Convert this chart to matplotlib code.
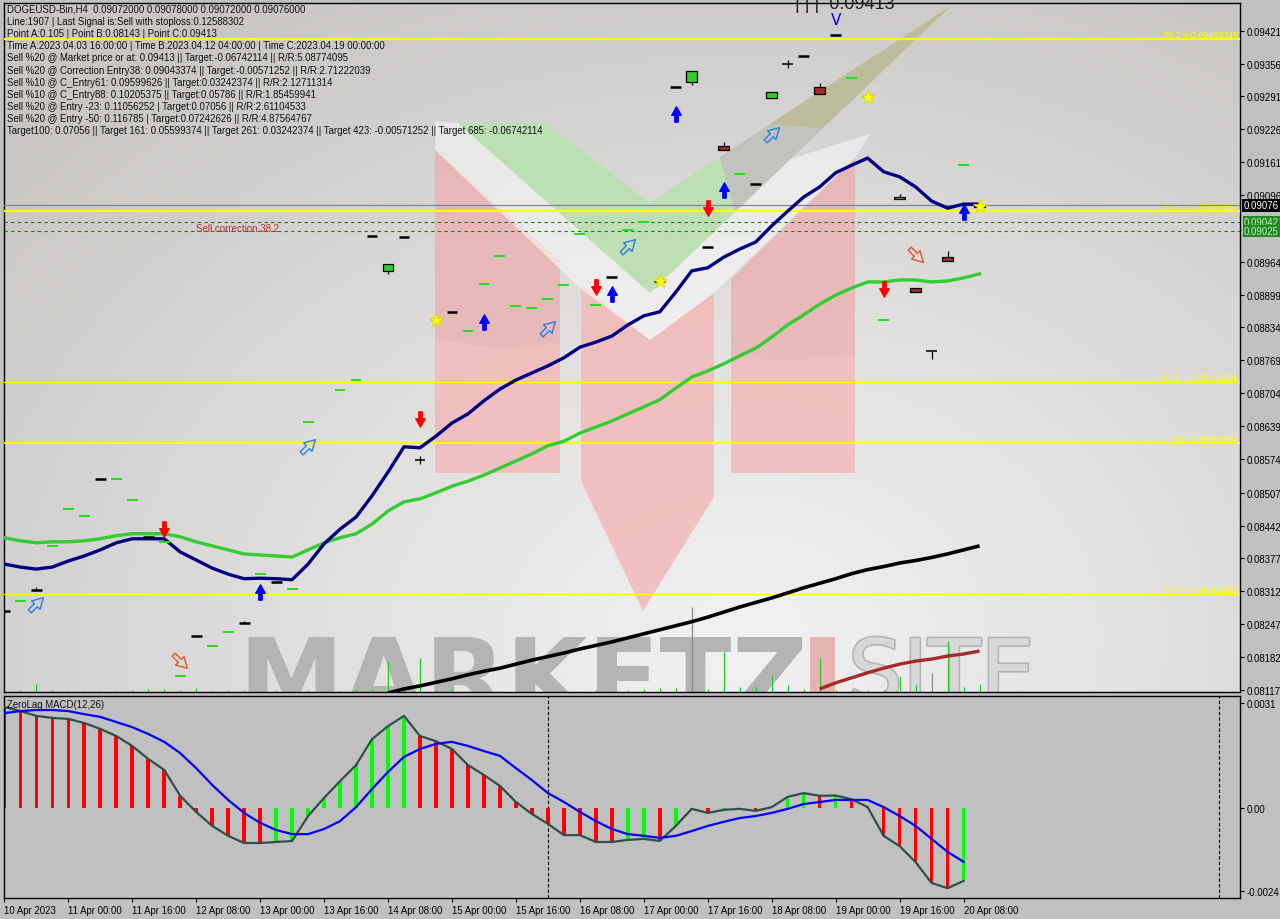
import numpy as np
import matplotlib
matplotlib.use("Agg")
import matplotlib.pyplot as plt
import matplotlib.transforms as mtransforms
import matplotlib.patheffects as pe
from matplotlib.patches import Polygon, Rectangle
from matplotlib.path import Path

plt.rcParams['font.family'] = ['Liberation Sans', 'DejaVu Sans']

# ---------------------------------------------------------------- data
time_labels = ["10 Apr 2023", "11 Apr 00:00", "11 Apr 16:00", "12 Apr 08:00",
               "13 Apr 00:00", "13 Apr 16:00", "14 Apr 08:00", "15 Apr 00:00",
               "15 Apr 16:00", "16 Apr 08:00", "17 Apr 00:00", "17 Apr 16:00",
               "18 Apr 08:00", "19 Apr 00:00", "19 Apr 16:00", "20 Apr 08:00"]
time_label_bars = list(range(0, 61, 4))

info_lines = [
    "DOGEUSD-Bin,H4  0.09072000 0.09078000 0.09072000 0.09076000",
    "Line:1907 | Last Signal is:Sell with stoploss:0.12588302",
    "Point A:0.105 | Point B:0.08143 | Point C:0.09413",
    "Time A:2023.04.03 16:00:00 | Time B:2023.04.12 04:00:00 | Time C:2023.04.19 00:00:00",
    "Sell %20 @ Market price or at: 0.09413 || Target:-0.06742114 || R/R:5.08774095",
    "Sell %20 @ Correction Entry38: 0.09043374 || Target:-0.00571252 || R/R:2.71222039",
    "Sell %10 @ C_Entry61: 0.09599626 || Target:0.03242374 || R/R:2.12711314",
    "Sell %10 @ C_Entry88: 0.10205375 || Target:0.05786 || R/R:1.85459941",
    "Sell %20 @ Entry -23: 0.11056252 | Target:0.07056 || R/R:2.61104533",
    "Sell %20 @ Entry -50: 0.116785 | Target:0.07242626 || R/R:4.87564767",
    "Target100: 0.07056 || Target 161: 0.05599374 || Target 261: 0.03242374 || Target 423: -0.00571252 || Target 685: -0.06742114",
]

price_ticks = [0.09421, 0.09356, 0.09291, 0.09226, 0.09161, 0.09096, 0.08964, 0.08899,
               0.08834, 0.08769, 0.08704, 0.08639, 0.08574, 0.08507, 0.08442, 0.08377,
               0.08312, 0.08247, 0.08182, 0.08117]

fib_levels = [0.09403745, 0.09064687, 0.08725629, 0.08604947, 0.08306116]
fib_labels = ["38.2 = 0.09403745", "50.0 = 0.09064687", "61.8 = 0.08725629",
              "66= 0.08604947", "76.4 = 0.08306116"]

current_price = 0.09076
entry_levels = [0.09042, 0.09025]

ma_navy = [0.08366, 0.08360, 0.08356, 0.08360, 0.08372, 0.08382, 0.08394, 0.08408, 0.08416, 0.08416,
           0.08416, 0.08390, 0.08374, 0.08358, 0.08346, 0.08337, 0.08338, 0.08337, 0.08335, 0.08366,
           0.08406, 0.08435, 0.08459, 0.08501, 0.08548, 0.08598, 0.08596, 0.08619, 0.08645, 0.08663,
           0.08689, 0.08712, 0.08730, 0.08744, 0.08758, 0.08774, 0.08795, 0.08805, 0.08817, 0.08839,
           0.08857, 0.08865, 0.08904, 0.08946, 0.08952, 0.08973, 0.08989, 0.09003, 0.09035, 0.09064,
           0.09092, 0.09112, 0.09140, 0.09155, 0.09169, 0.09142, 0.09132, 0.09112, 0.09084, 0.09070,
           0.09078, 0.09078]

ma_lime = [0.08418, 0.08412, 0.08408, 0.08410, 0.08410, 0.08412, 0.08416, 0.08422, 0.08426, 0.08426,
           0.08426, 0.08420, 0.08410, 0.08402, 0.08394, 0.08386, 0.08384, 0.08382, 0.08380, 0.08394,
           0.08408, 0.08418, 0.08426, 0.08445, 0.08471, 0.08489, 0.08495, 0.08507, 0.08520, 0.08530,
           0.08542, 0.08556, 0.08570, 0.08584, 0.08600, 0.08609, 0.08625, 0.08637, 0.08649, 0.08663,
           0.08677, 0.08691, 0.08714, 0.08736, 0.08748, 0.08762, 0.08778, 0.08793, 0.08815, 0.08839,
           0.08859, 0.08880, 0.08898, 0.08912, 0.08924, 0.08924, 0.08928, 0.08928, 0.08924, 0.08926,
           0.08932, 0.08940]

ma_black_start = 24
ma_black = [0.08111, 0.08119, 0.08125, 0.08132, 0.08139, 0.08147, 0.08154, 0.08160, 0.08168, 0.08176,
            0.08183, 0.08190, 0.08198, 0.08205, 0.08212, 0.08220, 0.08228, 0.08236, 0.08244, 0.08252,
            0.08261, 0.08271, 0.08281, 0.08290, 0.08299, 0.08309, 0.08319, 0.08328, 0.08337, 0.08347,
            0.08355, 0.08361, 0.08368, 0.08373, 0.08379, 0.08386, 0.08394, 0.08402]

ma_brown_start = 51
ma_brown = [0.08119, 0.08131, 0.08141, 0.08151, 0.08160, 0.08168, 0.08174, 0.08178, 0.08184,
            0.08188, 0.08194]

# candles: k = black doji, g = green doji, x = black doji with wick, G = bull body, B = bear body
cndl_bar = [0, 1, 2, 3, 4, 5, 6, 7, 8, 9, 10, 11, 12, 13, 14, 15, 16, 17, 18, 19,
            21, 22, 23, 24, 25, 26, 27, 28, 29, 30, 31, 32, 33, 34, 35, 36, 37, 38, 39, 40,
            41, 42, 43, 44, 45, 46, 47, 48, 49, 50, 51, 52, 53, 54, 55, 56, 57, 58, 59, 60, 61]
cndl_kind = ["k", "g", "k", "g", "g", "g", "k", "g", "g", "k", "g", "g", "k", "g", "g", "k", "g", "k", "g", "g",
             "g", "g", "k", "G", "k", "x", "g", "k", "g", "g", "g", "g", "g", "g", "g", "g", "g", "k", "g", "g",
             "k", "k", "G", "k", "B", "g", "k", "G", "x", "k", "B", "k", "g", "g", "g", "G", "B", "x", "B", "g", "G"]
cndl_open = [0.08273, 0.08293, 0.08315, 0.08402, 0.08475, 0.08461, 0.08534, 0.08534, 0.08493, 0.08420,
             0.08410, 0.08145, 0.08224, 0.08204, 0.08232, 0.08249, 0.08346, 0.08331, 0.08317, 0.08647,
             0.08710, 0.08730, 0.09015, 0.08946, 0.09013, 0.08572, 0.08849, 0.08865, 0.08827, 0.08920,
             0.08975, 0.08877, 0.08873, 0.08890, 0.08918, 0.09019, 0.08878, 0.08934, 0.09027, 0.09043,
             0.08926, 0.09310, 0.09320, 0.08993, 0.09193, 0.09138, 0.09118, 0.09288, 0.09355, 0.09371,
             0.09310, 0.09413, 0.09327, 0.09290, 0.08849, 0.09088, 0.08912, 0.08787, 0.08973, 0.09155,
             0.09072]
cndl_close = [0.08273, 0.08293, 0.08315, 0.08402, 0.08475, 0.08461, 0.08534, 0.08534, 0.08493, 0.08420,
              0.08410, 0.08145, 0.08224, 0.08204, 0.08232, 0.08249, 0.08346, 0.08331, 0.08317, 0.08647,
              0.08710, 0.08730, 0.09015, 0.08960, 0.09013, 0.08572, 0.08849, 0.08865, 0.08827, 0.08920,
              0.08975, 0.08877, 0.08873, 0.08890, 0.08918, 0.09019, 0.08878, 0.08934, 0.09027, 0.09043,
              0.08926, 0.09310, 0.09341, 0.08993, 0.09185, 0.09138, 0.09118, 0.09300, 0.09355, 0.09371,
              0.09296, 0.09413, 0.09327, 0.09290, 0.08849, 0.09092, 0.08904, 0.08787, 0.08966, 0.09155,
              0.09076]
cndl_high = [0.08273, 0.08293, 0.08320, 0.08402, 0.08475, 0.08461, 0.08534, 0.08534, 0.08493, 0.08420,
             0.08410, 0.08145, 0.08224, 0.08204, 0.08232, 0.08253, 0.08346, 0.08331, 0.08317, 0.08647,
             0.08710, 0.08730, 0.09015, 0.08960, 0.09013, 0.08580, 0.08849, 0.08865, 0.08827, 0.08920,
             0.08975, 0.08877, 0.08873, 0.08890, 0.08918, 0.09019, 0.08878, 0.08934, 0.09027, 0.09043,
             0.08926, 0.09310, 0.09341, 0.08993, 0.09200, 0.09138, 0.09118, 0.09300, 0.09363, 0.09371,
             0.09318, 0.09413, 0.09327, 0.09290, 0.08849, 0.09098, 0.08912, 0.08787, 0.08985, 0.09155,
             0.09078]
cndl_low = [0.08273, 0.08293, 0.08315, 0.08402, 0.08475, 0.08461, 0.08534, 0.08534, 0.08493, 0.08420,
            0.08410, 0.08145, 0.08224, 0.08204, 0.08232, 0.08249, 0.08346, 0.08331, 0.08317, 0.08647,
            0.08710, 0.08730, 0.09015, 0.08940, 0.09013, 0.08564, 0.08849, 0.08865, 0.08827, 0.08920,
            0.08975, 0.08877, 0.08873, 0.08890, 0.08918, 0.09019, 0.08878, 0.08934, 0.09027, 0.09043,
            0.08926, 0.09310, 0.09313, 0.08993, 0.09185, 0.09138, 0.09118, 0.09288, 0.09347, 0.09371,
            0.09296, 0.09413, 0.09327, 0.09290, 0.08849, 0.09088, 0.08904, 0.08771, 0.08966, 0.09155,
            0.09072]

volume = [2, 2, 8, 2, 1, 1, 1, 1, 2, 3, 3, 2, 4, 1, 2, 2, 1, 2, 1, 2,
          1, 1, 3, 3, 31, 4, 34, 2, 3, 1, 1, 1, 1, 1, 1, 1, 1, 2, 1, 2,
          3, 4, 4, 85, 3, 40, 5, 5, 17, 7, 3, 34, 2, 2, 2, 2, 16, 7, 19, 51,
          5, 8]
volume_gray_bars = [43, 58]

sell_arrow_bar = [10, 26, 37, 44, 55]
sell_arrow_price = [0.08435, 0.08653, 0.08914, 0.09070, 0.08910]
buy_arrow_bar = [16, 30, 38, 42, 45, 60]
buy_arrow_price = [0.08311, 0.08845, 0.08900, 0.09256, 0.09106, 0.09062]
hollow_up_bar = [2, 19, 34, 39, 48]
hollow_up_price = [0.08287, 0.08600, 0.08833, 0.08995, 0.09217]
hollow_dn_bar = [11, 57]
hollow_dn_price = [0.08174, 0.08977]
star_bar = [27, 41, 54, 61]
star_price = [0.08849, 0.08926, 0.09290, 0.09074]
peak_bar, peak_price, peak_text = 52, 0.09444, "0.09413"

macd = [0.00297, 0.00285, 0.00271, 0.00265, 0.00262, 0.00250, 0.00233, 0.00212, 0.00183, 0.00145,
        0.00113, 0.00037, -0.00010, -0.00051, -0.00080, -0.00101, -0.00101, -0.00098, -0.00095, -0.00022,
        0.00031, 0.00080, 0.00127, 0.00203, 0.00241, 0.00271, 0.00212, 0.00197, 0.00174, 0.00127,
        0.00098, 0.00066, 0.00019, -0.00016, -0.00045, -0.00078, -0.00078, -0.00098, -0.00098, -0.00092,
        -0.00089, -0.00095, -0.00051, -0.00001, -0.00013, -0.00004, -0.00001, -0.00007, 0.00004, 0.00034,
        0.00045, 0.00037, 0.00038, 0.00027, 0.00004, -0.00080, -0.00110, -0.00157, -0.00218, -0.00233,
        -0.00212]
macd_signal = [0.00279, 0.00285, 0.00288, 0.00288, 0.00285, 0.00276, 0.00268, 0.00253, 0.00238, 0.00218,
               0.00195, 0.00162, 0.00118, 0.00069, 0.00025, -0.00013, -0.00042, -0.00063, -0.00075, -0.00075,
               -0.00060, -0.00037, 0.00004, 0.00057, 0.00107, 0.00151, 0.00174, 0.00189, 0.00195, 0.00183,
               0.00168, 0.00154, 0.00118, 0.00083, 0.00045, 0.00019, -0.00010, -0.00037, -0.00060, -0.00075,
               -0.00080, -0.00086, -0.00080, -0.00066, -0.00051, -0.00039, -0.00028, -0.00022, -0.00013, -0.00001,
               0.00013, 0.00019, 0.00025, 0.00025, 0.00025, 0.00004, -0.00022, -0.00051, -0.00089, -0.00127,
               -0.00156]
macd_ticks = [0.0031, 0.0, -0.0024]
macd_tick_labels = ["0.0031", "0.00", "-0.0024"]
separator_bars = [34, 76]

# ---------------------------------------------------------------- layout
W, H = 1280, 920
fig = plt.figure(figsize=(W / 100, H / 100), dpi=100, facecolor='#c0c0c0')
px = mtransforms.Affine2D().scale(1 / W, -1 / H).translate(0, 1) + fig.transFigure


def fbox(x0, y0, x1, y1):
    return [x0 / W, 1 - y1 / H, (x1 - x0) / W, (y1 - y0) / H]


ax = fig.add_axes(fbox(4, 4, 1240, 693))
ax2 = fig.add_axes(fbox(4, 697, 1240, 899))
XMIN, XMAX = -0.02, 77.29
YMIN, YMAX = 0.081129, 0.094758
ax2.set_facecolor('#c0c0c0')
for a in (ax, ax2):
    for s in a.spines.values():
        s.set_color('black')
        s.set_linewidth(1.0)

# background gradient of the price pane
ny, nx = 220, 320
yy, xx = np.mgrid[0:1:ny * 1j, 0:1:nx * 1j]
d = np.sqrt(((xx - 0.6) / 0.78) ** 2 + ((yy - 0.92) / 1.05) ** 2)
t = np.clip(d, 0, 1) ** 1.1
light = np.array([0.945, 0.945, 0.945])
dark = np.array([0.79, 0.78, 0.77])
img = light[None, None, :] + (dark - light)[None, None, :] * t[..., None]
ax.imshow(img, extent=[0, 1, 0, 1], transform=ax.transAxes, aspect='auto',
          origin='upper', zorder=0, interpolation='bilinear')
ax.set_xlim(XMIN, XMAX)
ax.set_ylim(YMIN, YMAX)
ax2.set_xlim(XMIN, XMAX)
ax2.set_ylim(-0.002619, 0.003291)

# watermark logo (decoration, pixel space)
pink = '#f3b8b8'
for poly in ([(435, 151), (560, 262), (560, 474), (435, 474)],
             [(581, 285), (650, 341), (714, 294), (714, 498), (643, 612), (581, 482)],
             [(731, 280), (855, 159), (855, 474), (731, 474)]):
    ax.add_patch(Polygon(poly, closed=True, transform=px, fc=pink, ec='none', alpha=0.82, zorder=1))
# upper part of the pink bars slightly greyer
for poly in ([(435, 151), (560, 262), (560, 345), (500, 350), (435, 340)],
             [(731, 280), (855, 159), (855, 355), (790, 362), (731, 358)]):
    ax.add_patch(Polygon(poly, closed=True, transform=px, fc='#c09a9a', ec='none', alpha=0.12, zorder=1.05))
# white chevron band
ax.add_patch(Polygon([(435, 122), (458, 124), (650, 294), (790, 160), (870, 135), (855, 159),
                      (714, 294), (650, 341), (581, 290), (435, 151)], closed=True, transform=px,
                     fc='#f8f8f8', ec='none', alpha=0.6, zorder=1.1))
# green check
ax.add_patch(Polygon([(458, 124), (546, 124), (650, 204), (952, 6), (650, 294)], closed=True,
                     transform=px, fc='#bde0b3', ec='none', alpha=0.97, zorder=1.2))
ax.add_patch(Polygon([(720, 158), (770, 125), (822, 130), (735, 213)], closed=True,
                     transform=px, fc='#c2c2c0', ec='none', alpha=0.95, zorder=1.3))
ax.add_patch(Polygon([(770, 125), (952, 6), (822, 130)], closed=True,
                     transform=px, fc='#bcbb9c', ec='none', alpha=0.97, zorder=1.3))
ax.text(238, 714, "MARKETZ", transform=px, fontsize=76, fontweight='bold',
        family='DejaVu Sans', color='#b4b4b4', va='baseline', ha='left', zorder=1.4, clip_on=True)
ax.add_patch(Rectangle((810, 638), 25, 60, transform=px, fc='#e7b2b2', ec='none', zorder=1.4))
ax.text(848, 702, "SITE", transform=px, fontsize=62, family='DejaVu Sans', color='#d8d8d8',
        va='baseline', ha='left', zorder=1.4, clip_on=True,
        path_effects=[pe.withStroke(linewidth=2.2, foreground='#b2b2b2')])

# volume
vol_colors = ['#8a8a8a' if i in volume_gray_bars else '#22cc22' for i in range(len(volume))]
ax.vlines(np.arange(len(volume)), 0, np.array(volume) / 688.0,
          transform=ax.get_xaxis_transform(), colors=vol_colors, lw=0.9, zorder=2)

# horizontal levels
fib_lw = [1.6, 1.6, 0.8, 1.3, 0.8]
for lvl, lab, lw in zip(fib_levels, fib_labels, fib_lw):
    ax.axhline(lvl, color='#ffff00', lw=lw, zorder=3)
    ax.text(0.9985, lvl, lab, transform=ax.get_yaxis_transform(), ha='right', va='bottom',
            color='#ffff00', fontsize=6.5, zorder=3)
ax.axhline(current_price, color='#778899', lw=0.9, zorder=3)
for lvl in entry_levels:
    ax.axhline(lvl, color='#2a6e2a', lw=0.8, ls=(0, (3, 3)), zorder=3)
ax.text(12, 0.09031, "Sell correction 38.2", color='#b83030', fontsize=7, va='center',
        ha='left', zorder=3)

# moving averages
bars = np.arange(len(ma_navy))
ax.plot(np.arange(ma_black_start, ma_black_start + len(ma_black)), ma_black,
        color='black', lw=2.6, zorder=4, solid_capstyle='butt')
ax.plot(np.arange(ma_brown_start, ma_brown_start + len(ma_brown)), ma_brown,
        color='#a52a2a', lw=2.4, zorder=4, solid_capstyle='butt')
ax.plot(bars, ma_lime, color='#32cd32', lw=2.4, zorder=4)
ax.plot(bars, ma_navy, color='#000080', lw=2.4, zorder=4.1)

# candles
hw = 0.34
for b, k, o, c, h, l in zip(cndl_bar, cndl_kind, cndl_open, cndl_close, cndl_high, cndl_low):
    if k in ('G', 'B'):
        ax.vlines(b, l, h, color='black', lw=0.9, zorder=5)
        ax.add_patch(Rectangle((b - hw, min(o, c)), 2 * hw, abs(c - o),
                               fc='#32cd32' if k == 'G' else '#a52a2a', ec='black', lw=0.9, zorder=5.1))
    elif k == 'g':
        ax.hlines(o, b - hw, b + hw, color='#1fe01f', lw=1.4, zorder=5)
    else:
        if h > l:
            ax.vlines(b, l, h, color='black', lw=0.9, zorder=5)
        ax.hlines(o, b - hw, b + hw, color='black', lw=1.8 if k == 'k' else 1.1, zorder=5)

# signal markers
arrow_up = Path([(-0.22, -1), (0.22, -1), (0.22, -0.1), (0.62, -0.1), (0, 1), (-0.62, -0.1),
                 (-0.22, -0.1), (-0.22, -1)], closed=True)
arrow_dn = arrow_up.transformed(mtransforms.Affine2D().scale(1, -1))
arrow_ne = arrow_up.transformed(mtransforms.Affine2D().rotate_deg(-45))
arrow_se = arrow_up.transformed(mtransforms.Affine2D().rotate_deg(-135))
ax.plot(sell_arrow_bar, sell_arrow_price, ls='none', marker=arrow_dn, ms=11,
        color='#ff0000', mec='#ff0000', zorder=6)
ax.plot(buy_arrow_bar, buy_arrow_price, ls='none', marker=arrow_up, ms=11,
        color='#0000ff', mec='#0000ff', zorder=6)
ax.plot(hollow_up_bar, hollow_up_price, ls='none', marker=arrow_ne, ms=12,
        mfc='none', mec='#2a7fe0', mew=1.0, zorder=6)
ax.plot(hollow_dn_bar, hollow_dn_price, ls='none', marker=arrow_se, ms=12,
        mfc='none', mec='#e0552a', mew=1.0, zorder=6)
ax.plot(star_bar, star_price, ls='none', marker='*', ms=10, color='#ffff00', mec='#d8d800',
        mew=0.6, zorder=6)
ax.text(peak_bar, peak_price, "V", color='#0000ff', fontsize=11, ha='center', va='center',
        family='DejaVu Sans', zorder=6)
# label of the peak, partly above the top edge as in the terminal
fig.text(795, 9, "| | |  " + peak_text, transform=px, fontsize=13, color='#202020',
         va='baseline', ha='left')

# info block
for k, line in enumerate(info_lines):
    fig.text(7, 10 + 12.1 * k, line, transform=px, fontsize=6.9, color='#111111',
             va='center', ha='left', zorder=10)

# price axis
ax.yaxis.tick_right()
ax.set_yticks(price_ticks)
ax.set_yticklabels([f"{v:.5f}" for v in price_ticks])
ax.tick_params(axis='y', length=3, pad=2, width=0.8, labelsize=6.9, colors='black')
ax.set_xticks([])
ax.text(1.003, current_price, f"{current_price:.5f}", transform=ax.get_yaxis_transform(),
        ha='left', va='center', fontsize=6.9, color='white', zorder=10, clip_on=False,
        bbox=dict(boxstyle='square,pad=0.15', fc='black', ec='none'))
for lvl in entry_levels:
    ax.text(1.003, lvl, f"{lvl:.5f}", transform=ax.get_yaxis_transform(),
            ha='left', va='center', fontsize=6.9, color='#bfe8bf', zorder=10, clip_on=False,
            bbox=dict(boxstyle='square,pad=0.1', fc='#238b23', ec='none'))

# MACD pane
mbars = np.arange(len(macd))
hist_colors = ['#ff0000'] + ['#00ff00' if macd[i] > macd[i - 1] else '#ff0000'
                             for i in range(1, len(macd))]
ax2.bar(mbars, macd, width=0.22, color=hist_colors, zorder=2)
ax2.plot(mbars, macd, color='#2f4f4f', lw=1.6, zorder=3)
ax2.plot(mbars, macd_signal, color='#0000ff', lw=1.6, zorder=3)
for sb in separator_bars:
    ax2.axvline(sb, color='black', lw=0.8, ls=(0, (3, 2)), zorder=1)
ax2.text(0.0025, 0.985, "ZeroLag MACD(12,26)", transform=ax2.transAxes, va='top', ha='left',
         fontsize=6.9, color='#111111')
ax2.yaxis.tick_right()
ax2.set_yticks(macd_ticks)
ax2.set_yticklabels(macd_tick_labels)
ax2.tick_params(axis='y', length=3, pad=2, width=0.8, labelsize=6.9)
ax2.set_xticks(time_label_bars)
ax2.set_xticklabels(time_labels, ha='left')
ax2.tick_params(axis='x', length=3, pad=2, width=0.8, labelsize=6.9)

fig.savefig("out.png", dpi=100, facecolor=fig.get_facecolor())
